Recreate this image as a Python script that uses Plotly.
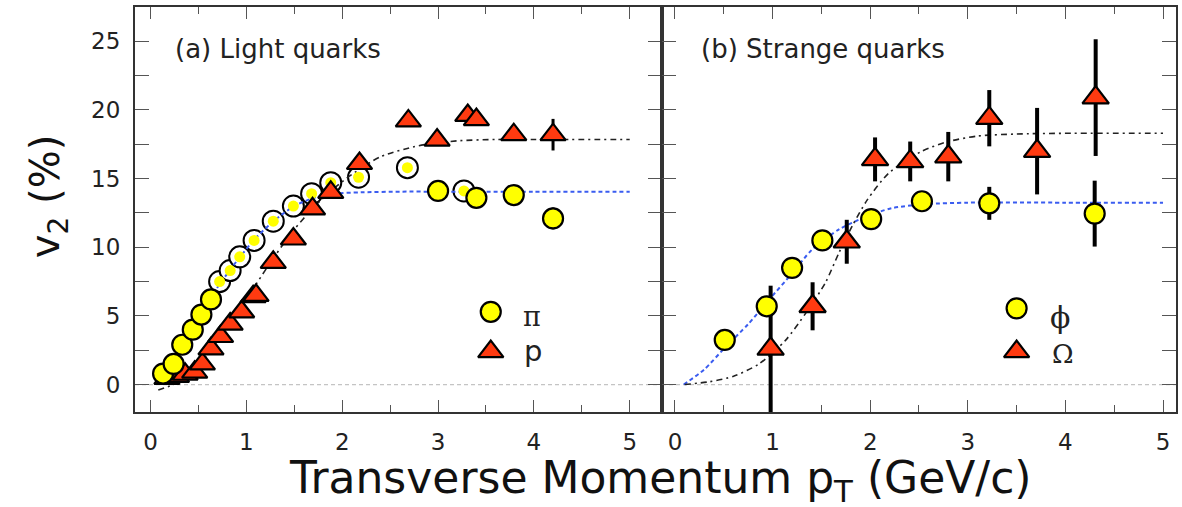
import plotly.graph_objects as go

# ---------------- data ----------------
# Panel (a) light quarks
pi_filled_x = [0.13, 0.24, 0.33, 0.44, 0.53, 0.63, 3.0, 3.4, 3.79, 4.2]
pi_filled_y = [0.8, 1.5, 2.9, 4.0, 5.1, 6.2, 14.1, 13.6, 13.8, 12.1]
pi_filled_err = [0, 0, 0, 0, 0, 0, 0, 0, 0, 0.8]

pi_open_x = [0.72, 0.83, 0.93, 1.08, 1.28, 1.49, 1.68, 1.88, 2.17, 2.68, 3.27]
pi_open_y = [7.5, 8.3, 9.3, 10.5, 11.9, 13.0, 13.9, 14.7, 15.1, 15.8, 14.1]

p_x = [0.17, 0.27, 0.36, 0.46, 0.54, 0.63, 0.73, 0.83, 0.95, 1.07, 1.10, 1.28,
       1.49, 1.69, 1.88, 2.18, 2.69, 2.99, 3.31, 3.40, 3.79, 4.2]
p_y = [0.45, 0.6, 0.75, 0.9, 1.5, 2.6, 3.5, 4.4, 5.3, 6.4, 6.5, 8.9,
       10.6, 12.8, 14.0, 16.1, 19.2, 17.8, 19.6, 19.3, 18.2, 18.2]
p_err = [0] * 21 + [1.15]

fit_pi_x = [0.1, 0.3, 0.5, 0.7, 0.9, 1.1, 1.3, 1.5, 1.7, 1.9, 2.2, 2.6, 3.0, 4.0, 5.0]
fit_pi_y = [0.0, 2.3, 4.8, 7.1, 9.0, 10.7, 12.0, 13.0, 13.6, 13.9, 14.0, 14.05, 14.05, 14.05, 14.05]

fit_p_x = [0.08, 0.3, 0.5, 0.7, 0.9, 1.1, 1.3, 1.5, 1.7, 1.9, 2.1, 2.4, 2.8, 3.2, 3.6, 4.0, 5.0]
fit_p_y = [-0.4, 0.2, 1.3, 3.2, 5.2, 7.3, 9.4, 11.3, 12.9, 14.2, 15.3, 16.6, 17.4, 17.75, 17.85, 17.85, 17.85]

# Panel (b) strange quarks
phi_x = [0.51, 0.94, 1.2, 1.51, 2.01, 2.53, 3.22, 4.3]
phi_y = [3.25, 5.7, 8.5, 10.5, 12.05, 13.35, 13.2, 12.45]
phi_err = [0.5, 0, 0, 0, 0, 0.5, 1.2, 2.4]

omega_x = [0.98, 1.41, 1.76, 2.05, 2.41, 2.8, 3.22, 3.71, 4.31]
omega_y = [2.6, 5.7, 10.4, 16.4, 16.25, 16.6, 19.4, 17.0, 20.9]
omega_err = [4.6, 1.75, 1.6, 1.6, 1.45, 1.8, 2.05, 3.15, 4.25]

fit_phi_x = [0.09, 0.3, 0.52, 0.75, 0.96, 1.2, 1.4, 1.68, 1.95, 2.22, 2.6, 3.0, 4.0, 5.0]
fit_phi_y = [0.0, 1.1, 2.75, 4.4, 6.15, 8.1, 9.8, 11.3, 12.2, 12.85, 13.15, 13.25, 13.25, 13.25]

fit_om_x = [0.1, 0.35, 0.6, 0.86, 1.13, 1.34, 1.54, 1.68, 1.82, 1.97, 2.19, 2.53, 2.8, 3.1, 3.5, 4.0, 5.0]
fit_om_y = [0.0, 0.2, 0.6, 1.5, 3.2, 5.2, 7.4, 9.6, 11.6, 13.45, 15.4, 17.0, 17.7, 18.1, 18.25, 18.3, 18.3]

x_ticks = [0, 1, 2, 3, 4, 5]
y_ticks = [0, 5, 10, 15, 20, 25]

panel_labels = ["(a) Light quarks", "(b) Strange quarks"]
legend_a = ["π", "p"]
legend_b = ["ϕ", "Ω"]

# ---------------- styles ----------------
YELLOW = "#ffff00"
RED = "#ff3a10"
BLUE = "#3a5cf0"
FRAME = "#333333"
SANS = "DejaVu Sans"
SERIF = "DejaVu Serif"

fig = go.Figure()


def curve(x, y, xa, ya, color, dash, width):
    fig.add_trace(go.Scatter(x=x, y=y, xaxis=xa, yaxis=ya, mode="lines",
                             line=dict(color=color, dash=dash, width=width,
                                       shape="spline", smoothing=0.7),
                             hoverinfo="skip", showlegend=False))


def circles(x, y, err, xa, ya, thick):
    fig.add_trace(go.Scatter(
        x=x, y=y, xaxis=xa, yaxis=ya, mode="markers",
        marker=dict(symbol="circle", size=20, color=YELLOW,
                    line=dict(color="black", width=2.2)),
        error_y=dict(type="data", array=err, visible=True, color="black",
                     thickness=thick, width=0),
        showlegend=False))


def triangles(x, y, err, xa, ya, thick, size):
    fig.add_trace(go.Scatter(
        x=x, y=y, xaxis=xa, yaxis=ya, mode="markers",
        marker=dict(symbol="triangle-up", size=size, color=RED,
                    line=dict(color="black", width=2.2)),
        error_y=dict(type="data", array=err, visible=True, color="black",
                     thickness=thick, width=0),
        showlegend=False))


# Panel (a)
fig.add_trace(go.Scatter(x=pi_open_x, y=pi_open_y, xaxis="x", yaxis="y", mode="markers",
                         marker=dict(symbol="circle", size=21, color="white",
                                     line=dict(color="black", width=2)),
                         showlegend=False))
curve(fit_pi_x, fit_pi_y, "x", "y", BLUE, "4px,3px", 2)
curve(fit_p_x, fit_p_y, "x", "y", "#222222", "6px,4px,2px,4px", 1.6)
fig.add_trace(go.Scatter(x=pi_open_x, y=pi_open_y, xaxis="x", yaxis="y", mode="markers",
                         marker=dict(symbol="circle", size=11, color=YELLOW,
                                     line=dict(width=0)),
                         showlegend=False))
triangles(p_x, p_y, p_err, "x", "y", 3, 22)
circles(pi_filled_x, pi_filled_y, pi_filled_err, "x", "y", 3)

# Panel (b)
curve(fit_phi_x, fit_phi_y, "x2", "y2", BLUE, "4px,3px", 2)
curve(fit_om_x, fit_om_y, "x2", "y2", "#222222", "6px,4px,2px,4px", 1.6)
triangles(omega_x, omega_y, omega_err, "x2", "y2", 4, 23)
circles(phi_x, phi_y, phi_err, "x2", "y2", 4)

# legend keys
fig.add_trace(go.Scatter(x=[3.55], y=[5.3], xaxis="x", yaxis="y", mode="markers",
                         marker=dict(symbol="circle", size=20, color=YELLOW,
                                     line=dict(color="black", width=2.2)), showlegend=False))
fig.add_trace(go.Scatter(x=[3.55], y=[2.4], xaxis="x", yaxis="y", mode="markers",
                         marker=dict(symbol="triangle-up", size=22, color=RED,
                                     line=dict(color="black", width=2.2)), showlegend=False))
fig.add_trace(go.Scatter(x=[3.5], y=[5.55], xaxis="x2", yaxis="y2", mode="markers",
                         marker=dict(symbol="circle", size=20, color=YELLOW,
                                     line=dict(color="black", width=2.2)), showlegend=False))
fig.add_trace(go.Scatter(x=[3.5], y=[2.4], xaxis="x2", yaxis="y2", mode="markers",
                         marker=dict(symbol="triangle-up", size=22, color=RED,
                                     line=dict(color="black", width=2.2)), showlegend=False))

split = 528 / 1043

common_x = dict(tickmode="array", tickvals=x_ticks, ticks="inside", ticklen=12,
                tickwidth=1.3, tickcolor="#555", mirror="allticks", showline=True,
                linecolor=FRAME, linewidth=2, showgrid=False, zeroline=False,
                tickfont=dict(family=SANS, size=23, color="#222"),
                ticklabelstandoff=8,
                minor=dict(dtick=0.5, ticks="inside", ticklen=7, tickwidth=1.3,
                           tickcolor="#555", showgrid=False))
common_y = dict(range=[-2, 27.5], tickmode="array", tickvals=y_ticks, ticks="inside",
                ticklen=14, tickwidth=1.3, tickcolor="#555", mirror="allticks",
                showline=True, linecolor=FRAME, linewidth=2, showgrid=False,
                zeroline=False,
                minor=dict(dtick=2.5, ticks="inside", ticklen=14, tickwidth=1.3,
                           tickcolor="#555", showgrid=False))

fig.update_layout(
    width=1182, height=507,
    margin=dict(l=135, r=4, t=7, b=95),
    paper_bgcolor="white", plot_bgcolor="white",
    xaxis=dict(domain=[0, split], range=[-0.163, 5.337], anchor="y", **common_x),
    xaxis2=dict(domain=[split, 1], range=[-0.133, 5.133], anchor="y2", **common_x),
    yaxis=dict(anchor="x", tickfont=dict(family=SANS, size=23, color="#222"),
               ticklabelstandoff=8, **common_y),
    yaxis2=dict(anchor="x2", matches="y", showticklabels=False, **common_y),
    showlegend=False,
)

for xr, yr in (("x", "y"), ("x2", "y2")):
    fig.add_shape(type="line", xref=f"{xr} domain", yref=yr, x0=0, x1=1, y0=0, y1=0,
                  line=dict(color="#c4c4c4", width=1.2, dash="4px,3px"), layer="below")

ann = []
ann.append(dict(text=panel_labels[0], xref="paper", yref="paper", x=38 / 1043, y=0.897,
                xanchor="left", yanchor="middle", showarrow=False,
                font=dict(family=SANS, size=26, color="#222")))
ann.append(dict(text=panel_labels[1], xref="paper", yref="paper", x=(700 - 135) / 1043, y=0.897,
                xanchor="left", yanchor="middle", showarrow=False,
                font=dict(family=SANS, size=26, color="#222")))
ann.append(dict(text=legend_a[0], xref="x", yref="y", x=3.98, y=4.95, xanchor="center",
                yanchor="middle", showarrow=False, font=dict(family=SERIF, size=27, color="#222")))
ann.append(dict(text=legend_a[1], xref="x", yref="y", x=3.99, y=2.45, xanchor="center",
                yanchor="middle", showarrow=False, font=dict(family=SANS, size=29, color="#222")))
ann.append(dict(text=legend_b[0], xref="x2", yref="y2", x=3.94, y=4.85, xanchor="center",
                yanchor="middle", showarrow=False, font=dict(family=SERIF, size=30, color="#222")))
ann.append(dict(text=legend_b[1], xref="x2", yref="y2", x=3.98, y=2.2, xanchor="center",
                yanchor="middle", showarrow=False, font=dict(family=SERIF, size=26, color="#222")))
ann.append(dict(text="Transverse Momentum p<sub>T</sub> (GeV/c)", xref="paper", yref="paper",
                x=(661.7 - 135) / 1043, y=(412 - 481) / 405, xanchor="center", yanchor="middle",
                showarrow=False, font=dict(family=SANS, size=44, color="#111")))
ann.append(dict(text="v<sub>2</sub> (%)", xref="paper", yref="paper", textangle=-90,
                x=(48 - 135) / 1043, y=(412 - 197) / 405, xanchor="center", yanchor="middle",
                showarrow=False, font=dict(family=SANS, size=40, color="#111")))
fig.update_layout(annotations=ann)

fig.write_html("out.html", config={"displayModeBar": False},
               post_script="document.body.style.margin='0';document.body.style.overflow='hidden';")
